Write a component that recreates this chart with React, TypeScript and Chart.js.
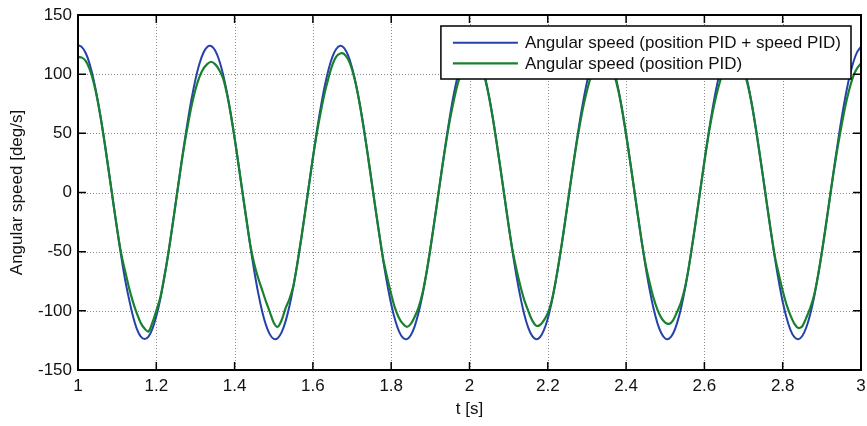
import React, { useEffect, useRef } from 'react';
import { Chart, registerables } from 'chart.js';

Chart.register(...registerables);

// sampling grid of the recorded signals (seconds)
const T_START = 1.0;
const T_STEP = 0.01;

const X_TICKS = [1, 1.2, 1.4, 1.6, 1.8, 2, 2.2, 2.4, 2.6, 2.8, 3];
const Y_TICKS = [-150, -100, -50, 0, 50, 100, 150];

const X_TITLE = 't [s]';
const Y_TITLE = 'Angular speed [deg/s]';
const SERIES_LABELS = [
  'Angular speed (position PID + speed PID)',
  'Angular speed (position PID)',
];

// Angular speed with position PID + speed PID (deg/s), t = 1.00 ... 3.00
const speedPosSpeedPid = [
  124.6, 122.9, 117.7, 108.4, 95.1, 78.5, 59.3, 37.8, 15.0, -8.3,
  -31.3, -53.2, -73.2, -89.5, -104.0, -115.0, -121.6, -123.8, -121.8, -115.2,
  -104.6, -90.4, -72.8, -52.8, -30.8, -7.8, 15.5, 38.2, 59.6, 79.0,
  95.4, 108.6, 117.9, 123.0, 123.8, 120.2, 112.4, 100.6, 85.2, 66.8,
  46.1, 23.8, 0.6, -22.6, -45.0, -65.9, -84.4, -99.9, -111.9, -119.9,
  -123.7, -123.1, -118.2, -109.1, -96.1, -79.7, -60.6, -39.3, -16.6, 6.7,
  29.7, 51.7, 71.9, 89.6, 104.0, 114.8, 121.5, 124.0, 122.1, 115.8,
  105.5, 91.4, 74.2, 54.2, 32.4, 9.4, -13.9, -36.7, -58.2, -77.6,
  -94.4, -107.8, -117.3, -122.8, -123.9, -120.6, -113.1, -101.5, -86.4, -68.2,
  -47.6, -25.3, -2.2, 21.0, 43.5, 64.5, 83.2, 98.9, 111.1, 119.5,
  123.6, 123.3, 118.7, 109.9, 97.2, 81.1, 62.0, 40.9, 18.2, -5.0,
  -28.1, -50.2, -70.6, -88.4, -103.1, -114.2, -121.2, -124.0, -122.3, -116.4,
  -106.4, -92.5, -75.5, -55.7, -34.0, -11.0, 12.3, 35.1, 56.8, 76.3,
  93.3, 106.9, 116.8, 122.5, 123.9, 121.0, 113.7, 102.4, 87.6, 69.5,
  49.1, 27.0, 3.8, -19.4, -42.0, -63.1, -81.9, -97.9, -110.4, -119.0,
  -123.4, -123.5, -119.2, -110.6, -98.2, -82.3, -63.5, -42.4, -19.8, 3.4,
  26.5, 48.7, 69.2, 87.3, 102.2, 113.6, 120.9, 123.9, 122.6, 116.9,
  107.1, 93.6, 76.7, 57.1, 35.5, 12.7, -10.6, -33.6, -55.3, -75.1,
  -92.3, -106.1, -116.2, -122.3, -124.0, -121.3, -114.3, -103.3, -88.7, -70.9,
  -50.6, -28.5, -5.5, 17.8, 40.5, 61.8, 80.7, 96.9, 109.7, 118.6,
  123.3,
];

// Angular speed with position PID only (deg/s), t = 1.00 ... 3.00
const speedPosPid = [
  114.5, 114.0, 111.0, 104.0, 93.0, 78.0, 59.0, 37.5, 14.5, -8.5,
  -31.0, -51.0, -66.0, -80.0, -92.0, -102.0, -110.0, -115.0, -117.5, -110.0,
  -100.0, -89.0, -72.0, -53.0, -31.0, -8.0, 15.0, 37.0, 56.0, 73.0,
  87.0, 97.5, 104.5, 108.5, 110.5, 108.5, 104.0, 97.0, 84.0, 66.5,
  46.0, 23.5, 0.5, -22.0, -44.0, -60.0, -72.0, -82.0, -92.0, -101.0,
  -110.0, -113.5, -108.0, -98.0, -90.0, -79.0, -60.5, -39.5, -17.0, 6.0,
  29.0, 50.0, 68.0, 84.0, 97.0, 108.0, 115.0, 117.5, 117.0, 112.5,
  104.0, 91.0, 74.0, 54.0, 32.0, 9.0, -14.0, -36.0, -57.0, -72.0,
  -86.0, -98.0, -106.0, -111.0, -113.5, -111.0, -105.0, -97.0, -85.0, -68.0,
  -47.5, -25.0, -2.5, 20.5, 42.0, 61.5, 78.0, 92.0, 102.0, 109.0,
  112.5, 113.0, 110.5, 105.0, 95.5, 80.5, 62.0, 40.5, 18.0, -5.0,
  -28.0, -49.0, -65.0, -79.0, -91.0, -100.0, -108.0, -112.5, -112.0, -108.0,
  -102.0, -91.5, -75.0, -55.5, -34.0, -11.0, 12.0, 34.0, 54.0, 71.5,
  86.0, 98.0, 106.0, 110.5, 112.0, 111.0, 107.0, 99.0, 86.5, 69.5,
  49.0, 27.0, 4.0, -19.0, -41.5, -61.0, -76.0, -89.0, -99.0, -106.0,
  -110.0, -111.0, -108.0, -101.0, -93.0, -81.0, -63.5, -42.0, -20.0, 3.0,
  26.0, 47.5, 66.0, 81.5, 94.0, 104.0, 110.0, 113.0, 113.0, 109.5,
  103.0, 92.0, 76.5, 57.0, 35.0, 12.5, -10.5, -33.0, -54.0, -69.0,
  -83.0, -95.0, -104.0, -111.0, -114.5, -113.0, -106.0, -98.0, -87.0, -70.5,
  -50.5, -28.5, -5.5, 17.0, 37.5, 56.0, 73.0, 87.0, 98.0, 105.0,
  109.0,
];

const BLUE = '#2442a8';
const GREEN = '#18802e';
const FONT_FAMILY = '"Liberation Sans", Arial, Helvetica, sans-serif';
const FONT_SIZE = 17;
const TEXT_COLOR = '#111111';

const times = speedPosSpeedPid.map((_, i) => +(T_START + i * T_STEP).toFixed(2));

const framePlugin = {
  id: 'matlabFrame',
  beforeDatasetsDraw(chart: any) {
    const { ctx, chartArea, scales } = chart;
    const { left, right, top, bottom } = chartArea;
    ctx.save();
    ctx.strokeStyle = '#8c8c8c';
    ctx.lineWidth = 1;
    ctx.setLineDash([1, 2]);
    X_TICKS.forEach((v) => {
      const px = Math.round(scales.x.getPixelForValue(v)) + 0.5;
      if (px <= left + 1 || px >= right - 1) return;
      ctx.beginPath();
      ctx.moveTo(px, top);
      ctx.lineTo(px, bottom);
      ctx.stroke();
    });
    Y_TICKS.forEach((v) => {
      const py = Math.round(scales.y.getPixelForValue(v)) + 0.5;
      if (py <= top + 1 || py >= bottom - 1) return;
      ctx.beginPath();
      ctx.moveTo(left, py);
      ctx.lineTo(right, py);
      ctx.stroke();
    });
    ctx.restore();
  },
  afterDatasetsDraw(chart: any) {
    const { ctx, chartArea, scales } = chart;
    const { left, right, top, bottom } = chartArea;
    const tickLen = 8;
    ctx.save();
    ctx.setLineDash([]);
    ctx.strokeStyle = '#000';
    ctx.lineWidth = 1.5;
    X_TICKS.forEach((v) => {
      const px = scales.x.getPixelForValue(v);
      ctx.beginPath();
      ctx.moveTo(px, bottom);
      ctx.lineTo(px, bottom - tickLen);
      ctx.moveTo(px, top);
      ctx.lineTo(px, top + tickLen);
      ctx.stroke();
    });
    Y_TICKS.forEach((v) => {
      const py = scales.y.getPixelForValue(v);
      ctx.beginPath();
      ctx.moveTo(left, py);
      ctx.lineTo(left + tickLen, py);
      ctx.moveTo(right, py);
      ctx.lineTo(right - tickLen, py);
      ctx.stroke();
    });
    ctx.lineWidth = 2;
    ctx.strokeRect(left, top, right - left, bottom - top);

    // legend box (inside, north-east)
    const font = `${FONT_SIZE}px ${FONT_FAMILY}`;
    ctx.font = font;
    const datasets = chart.data.datasets;
    const textW = Math.max(...datasets.map((d: any) => ctx.measureText(d.label).width));
    const padL = 12;
    const lineLen = 65;
    const gap = 7;
    const padR = 10;
    const rowH = 20.6;
    const boxW = padL + lineLen + gap + textW + padR;
    const boxH = 53;
    const boxRight = right - 10;
    const boxTop = top + 11;
    const boxLeft = boxRight - boxW;
    ctx.fillStyle = '#ffffff';
    ctx.fillRect(boxLeft, boxTop, boxW, boxH);
    ctx.lineWidth = 1.5;
    ctx.strokeStyle = '#000';
    ctx.strokeRect(boxLeft, boxTop, boxW, boxH);
    datasets.forEach((d: any, i: number) => {
      const cy = boxTop + 16.7 + i * rowH;
      ctx.strokeStyle = d.borderColor;
      ctx.lineWidth = d.borderWidth;
      ctx.beginPath();
      ctx.moveTo(boxLeft + padL, cy);
      ctx.lineTo(boxLeft + padL + lineLen, cy);
      ctx.stroke();
      ctx.fillStyle = TEXT_COLOR;
      ctx.textAlign = 'left';
      ctx.textBaseline = 'middle';
      ctx.fillText(d.label, boxLeft + padL + lineLen + gap, cy + 1);
    });
    ctx.restore();
  },
};

export default function App() {
  const canvasRef = useRef<HTMLCanvasElement | null>(null);

  useEffect(() => {
    document.body.style.margin = '0';
    const canvas = canvasRef.current;
    if (!canvas) return;
    const tickFont = { family: FONT_FAMILY, size: FONT_SIZE };
    const chart = new Chart(canvas, {
      type: 'line',
      data: {
        datasets: [
          {
            label: SERIES_LABELS[0],
            data: speedPosSpeedPid.map((y, i) => ({ x: times[i], y })),
            borderColor: BLUE,
            borderWidth: 2,
            pointRadius: 0,
            tension: 0.3,
            fill: false,
            order: 2,
          },
          {
            label: SERIES_LABELS[1],
            data: speedPosPid.map((y, i) => ({ x: times[i], y })),
            borderColor: GREEN,
            borderWidth: 2.2,
            pointRadius: 0,
            tension: 0.3,
            fill: false,
            order: 1,
          },
        ],
      },
      options: {
        animation: false,
        responsive: false,
        maintainAspectRatio: false,
        events: [],
        layout: { padding: { top: 15, right: 6, left: 0, bottom: 0 } },
        plugins: {
          legend: { display: false },
          tooltip: { enabled: false },
        },
        scales: {
          x: {
            type: 'linear',
            min: 1,
            max: 3,
            afterBuildTicks: (s: any) => {
              s.ticks = X_TICKS.map((v) => ({ value: v }));
            },
            afterFit: (s: any) => {
              s.height = 56;
              s.paddingLeft = 0;
              s.paddingRight = 0;
            },
            grid: { display: false, drawTicks: false },
            border: { display: false },
            ticks: {
              padding: 6,
              color: TEXT_COLOR,
              font: tickFont,
              maxRotation: 0,
              autoSkip: false,
              callback: (v: any) => String(Number(Number(v).toFixed(1))),
            },
            title: {
              display: true,
              text: X_TITLE,
              color: TEXT_COLOR,
              font: tickFont,
              padding: { top: 0, bottom: 6 },
            },
          },
          y: {
            type: 'linear',
            min: -150,
            max: 150,
            afterBuildTicks: (s: any) => {
              s.ticks = Y_TICKS.map((v) => ({ value: v }));
            },
            afterFit: (s: any) => {
              s.width = 78;
              s.paddingTop = 0;
              s.paddingBottom = 0;
            },
            grid: { display: false, drawTicks: false },
            border: { display: false },
            ticks: {
              padding: 6,
              color: TEXT_COLOR,
              font: tickFont,
              autoSkip: false,
              callback: (v: any) => String(v),
            },
            title: {
              display: true,
              text: Y_TITLE,
              color: TEXT_COLOR,
              font: tickFont,
              padding: { top: 7, bottom: 0 },
            },
          },
        },
      },
      plugins: [framePlugin],
    });
    return () => chart.destroy();
  }, []);

  return (
    <div style={{ width: 867, height: 426, background: '#fff' }}>
      <canvas ref={canvasRef} width={867} height={426} style={{ display: 'block' }} />
    </div>
  );
}
